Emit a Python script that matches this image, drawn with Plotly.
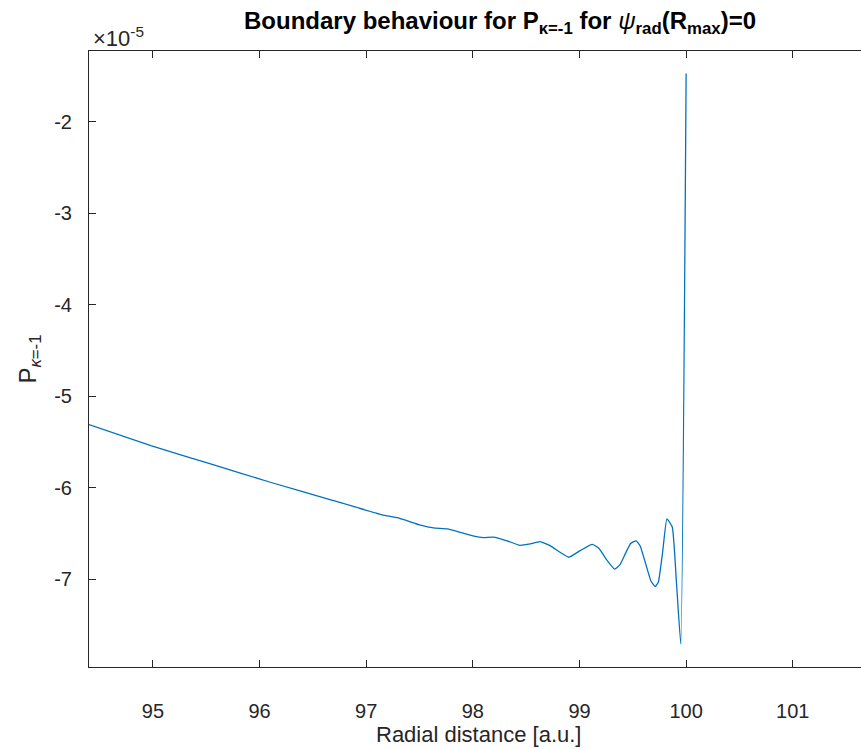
import plotly.graph_objects as go

# Radial distance [a.u.]
r = [94.40, 94.98, 95.54, 96.10, 96.66, 97.13, 97.30, 97.51, 97.63, 97.76, 97.89,
     98.01, 98.10, 98.19, 98.32, 98.44, 98.54, 98.63, 98.72, 98.81, 98.90, 99.01,
     99.12, 99.18, 99.25, 99.33, 99.38, 99.43, 99.48, 99.53, 99.57, 99.62, 99.67,
     99.71, 99.74, 99.78, 99.82, 99.87, 99.91, 99.95, 100.00]
# P_{kappa=-1} in units of 1e-5
p = [-5.31, -5.54, -5.74, -5.94, -6.13, -6.29, -6.33, -6.41, -6.44, -6.45, -6.49,
     -6.53, -6.545, -6.54, -6.58, -6.63, -6.615, -6.59, -6.63, -6.70, -6.76, -6.685,
     -6.62, -6.66, -6.78, -6.89, -6.84, -6.72, -6.61, -6.58, -6.64, -6.83, -7.02,
     -7.08, -7.03, -6.70, -6.34, -6.43, -7.05, -7.71, -1.47]

x_ticks = [95, 96, 97, 98, 99, 100, 101]
y_ticks = [-7, -6, -5, -4, -3, -2]

TXT = "#262626"
FONT = "Liberation Sans, Arial, Helvetica, sans-serif"

fig = go.Figure()
fig.add_trace(go.Scatter(x=r, y=p, mode="lines",
                         line=dict(color="#0072BD", width=1.3, shape="spline", smoothing=0.4),
                         showlegend=False, hoverinfo="x+y"))

W, H = 861, 749
L, R, T, B = 89, 0, 51, 82

fig.update_layout(
    width=W, height=H,
    margin=dict(l=L, r=R, t=T, b=B, pad=0),
    paper_bgcolor="white", plot_bgcolor="white",
    font=dict(family=FONT, size=20, color=TXT),
    title=dict(
        text="<b>Boundary behaviour for P<sub>κ=-1</sub> for </b><i>ψ</i><b><sub>rad</sub>(R<sub>max</sub>)=0</b>",
        x=500 / W, xref="container", xanchor="center",
        y=1 - 21 / H, yanchor="middle",
        font=dict(family=FONT, size=24, color="#000000"),
    ),
    xaxis=dict(
        range=[94.40, 101.64], tickvals=x_ticks, ticktext=[str(v) for v in x_ticks],
        ticks="inside", ticklen=7, tickcolor=TXT, tickwidth=1,
        showline=True, linecolor=TXT, linewidth=1, mirror="ticks",
        showgrid=False, zeroline=False, ticklabelstandoff=26,
        tickfont=dict(family=FONT, size=20, color=TXT),
    ),
    yaxis=dict(
        range=[-7.96, -1.225], tickvals=y_ticks, ticktext=[str(v) for v in y_ticks],
        ticks="inside", ticklen=7, tickcolor=TXT, tickwidth=1,
        showline=True, linecolor=TXT, linewidth=1, mirror=False,
        showgrid=False, zeroline=False, ticklabelstandoff=12,
        title=dict(text="P<sub><i>κ</i>=-1</sub>", standoff=10,
                   font=dict(family=FONT, size=24, color=TXT)),
        tickfont=dict(family=FONT, size=20, color=TXT),
    ),
    annotations=[
        dict(text="×10<sup>-5</sup>", xref="paper", yref="paper",
             x=0.003, y=1.022, xanchor="left", yanchor="middle", showarrow=False,
             font=dict(family=FONT, size=22, color=TXT)),
        dict(text="Radial distance [a.u.]", xref="paper", yref="paper",
             x=(478 - L) / (W - L), y=(667 - 734) / 616, xanchor="center", yanchor="middle",
             showarrow=False, font=dict(family=FONT, size=22, color=TXT)),
    ],
)

fig.write_html("out.html")
